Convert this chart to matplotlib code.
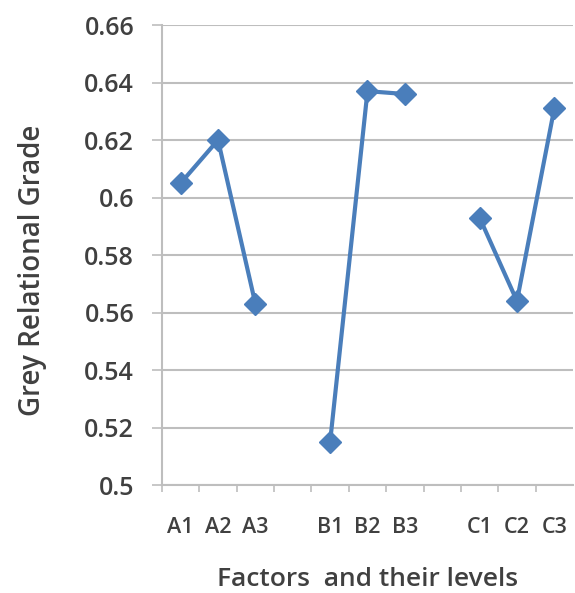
import matplotlib.pyplot as plt
import numpy as np

plt.rcParams['font.family'] = ['Open Sans', 'DejaVu Sans']

# categories (blank slots separate the factor groups, like the original chart)
levels = ['A1', 'A2', 'A3', '', 'B1', 'B2', 'B3', '', 'C1', 'C2', 'C3']
factor_a = [0.605, 0.620, 0.563]
factor_b = [0.515, 0.637, 0.636]
factor_c = [0.593, 0.564, 0.631]

blue = '#4A7EBB'
grid_col = '#BEBEBE'
text_col = '#404040'

fig = plt.figure(figsize=(5.75, 5.93), dpi=100)
ax = fig.add_axes([0.2817, 0.1821, 0.7148, 0.7757])

groups = [(0, factor_a), (4, factor_b), (8, factor_c)]
for start, vals in groups:
    x = np.arange(start, start + len(vals)) + 0.5
    ax.plot(x, vals, color=blue, lw=3, marker='D', ms=11, mec=blue, mfc=blue, zorder=3)

ax.set_xlim(0, len(levels))
ax.set_ylim(0.5, 0.66)
ax.set_yticks(np.arange(0.5, 0.661, 0.02))
ax.set_yticklabels(['0.5', '0.52', '0.54', '0.56', '0.58', '0.6', '0.62', '0.64', '0.66'],
                   fontweight='semibold')
ax.yaxis.grid(True, color=grid_col, lw=1.5)
ax.set_axisbelow(True)

# category boundaries get tick marks, labels sit in the middle
ax.set_xticks(np.arange(0, len(levels)))
ax.set_xticklabels([])
ax.set_xticks(np.arange(len(levels)) + 0.5, minor=True)
ax.set_xticklabels(levels, minor=True, fontweight='semibold')
ax.tick_params(axis='x', which='minor', length=0, pad=23, labelsize=15.5, labelcolor=text_col)
ax.tick_params(axis='x', which='major', length=5, width=1.2, color=grid_col, direction='out')
ax.tick_params(axis='y', length=7, width=1.2, color=grid_col, labelsize=18, labelcolor=text_col, pad=13)

for s in ['top', 'right']:
    ax.spines[s].set_visible(False)
for s in ['left', 'bottom']:
    ax.spines[s].set_color(grid_col)
    ax.spines[s].set_linewidth(1.5)

ax.set_ylabel('Grey Relational Grade', fontsize=20, color=text_col, fontweight='semibold')
ax.yaxis.set_label_coords(-0.28, 0.467)
ax.set_xlabel('Factors  and their levels', fontsize=19, color=text_col, fontweight='semibold')
ax.xaxis.label.set_va('baseline')
ax.xaxis.set_label_coords(0.5, -0.219)

fig.savefig('out.png', dpi=100)
